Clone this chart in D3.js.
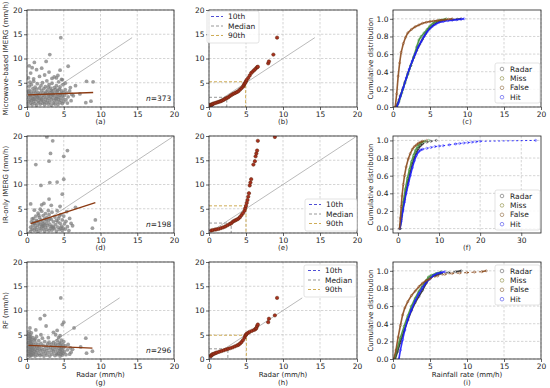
<!DOCTYPE html>
<html>
<head>
<meta charset="utf-8">
<script src="https://cdn.jsdelivr.net/npm/d3@7"></script>
<style>
  body { margin: 0; background: #fff; }
  svg { display: block; font-family: "DejaVu Sans", sans-serif; }
</style>
</head>
<body>
<svg id="chart" width="550" height="388"></svg>
<script>
// scatter: radar vs product (x = radar, y = product)
const scatterMW = [
  [4.6,14.3],[3.1,10.8],[2.6,9.4],[1.0,9.2],[0.3,8.5],[5.6,8.4],[2.0,8.0],[0.7,8.1],[4.5,7.6],[3.0,7.2],
  [1.3,7.7],[4.2,6.5],[0.5,7.0],[4.0,6.0],[8.1,5.3],[9.0,5.2],[8.0,0.9],[8.7,1.2],[6.3,2.3],[7.2,2.7],
  [6.6,4.4],[5.2,4.9],[3.7,6.2],[2.4,6.6],[1.7,6.3],[0.2,6.0],[0.9,5.8],[4.8,5.6],[3.4,5.9],
  [0.1,0.6],[0.2,1.2],[0.2,2.0],[0.3,2.8],[0.3,3.5],[0.3,4.3],[0.4,5.1],[0.4,1.5],[0.5,0.8],[0.5,2.4],
  [0.6,3.1],[0.6,4.6],[0.7,1.9],[0.7,0.5],[0.8,2.7],[0.8,3.8],[0.9,1.1],[0.9,5.3],[1.0,2.2],[1.0,3.3],
  [1.1,0.7],[1.1,4.1],[1.2,1.6],[1.2,2.9],[1.3,0.4],[1.3,3.7],[1.4,2.1],[1.4,4.8],[1.5,1.2],[1.5,3.0],
  [1.6,0.9],[1.6,2.5],[1.7,3.9],[1.7,1.8],[1.8,0.6],[1.8,2.8],[1.9,4.4],[1.9,1.4],[2.0,2.3],[2.0,3.4],
  [2.1,0.8],[2.1,5.0],[2.2,1.9],[2.2,2.9],[2.3,1.1],[2.3,3.8],[2.4,0.5],[2.4,2.4],[2.5,1.6],[2.5,4.2],
  [2.6,3.1],[2.6,0.9],[2.7,2.0],[2.7,5.4],[2.8,1.3],[2.8,3.5],[2.9,2.6],[2.9,0.6],[3.0,1.8],[3.0,4.6],
  [3.1,3.0],[3.1,1.0],[3.2,2.2],[3.2,3.9],[3.3,1.5],[3.3,0.4],[3.4,2.7],[3.4,4.9],[3.5,1.9],[3.5,3.3],
  [3.6,0.8],[3.6,2.4],[3.7,4.0],[3.7,1.3],[3.8,2.9],[3.8,0.6],[3.9,1.7],[3.9,3.6],[4.0,2.2],[4.0,4.4],
  [4.1,1.1],[4.1,3.1],[4.2,0.5],[4.2,2.6],[4.3,1.6],[4.3,5.2],[4.4,3.7],[4.4,2.0],[4.5,0.9],[4.5,4.1],
  [4.6,2.8],[4.6,1.4],[4.7,3.3],[4.7,5.7],[4.8,2.3],[4.8,0.7],[4.9,4.6],[4.9,1.8],[5.0,3.0],[5.0,1.1],
  [5.1,2.4],[5.2,3.6],[5.3,1.5],[5.4,2.9],[5.5,0.8],[5.6,2.1],[5.8,3.3],[6.0,1.3],[6.1,2.6],[5.9,4.0],
  [0.2,3.1],[0.4,2.3],[0.6,1.3],[1.0,1.6],[1.5,2.0],[2.0,1.5],[2.5,2.8],[3.0,2.5],[3.5,2.6],[4.0,1.8],
  [4.5,2.4],[1.2,2.4],[0.8,1.7],[3.3,3.4],[2.9,4.1],[4.2,3.4]
]
const scatterIR = [
  [2.7,19.8],[3.5,19.0],[3.2,16.4],[3.0,14.8],[1.2,14.1],[5.5,17.0],[5.0,15.8],[5.0,11.1],[3.1,10.4],[1.9,9.8],
  [4.1,10.5],[4.8,8.0],[3.0,7.0],[0.5,6.0],[2.3,6.1],[3.3,5.7],[4.5,5.5],[9.3,2.7],[8.9,1.0],[6.6,5.3],
  [5.7,0.5],[2.0,5.8],[1.0,4.7],[6.0,2.0],
  [0.5,0.4],[0.5,1.2],[0.6,2.3],[0.7,0.8],[0.8,1.6],[0.9,3.0],[1.0,0.5],[1.0,2.0],[1.1,1.1],[1.2,3.5],
  [1.3,0.7],[1.3,2.6],[1.4,1.5],[1.5,4.1],[1.5,0.3],[1.6,2.1],[1.7,1.0],[1.7,3.2],[1.8,1.8],[1.9,0.6],
  [1.9,2.7],[2.0,1.3],[2.0,4.5],[2.1,2.3],[2.2,0.9],[2.2,3.6],[2.3,1.6],[2.4,0.4],[2.4,2.9],[2.5,1.2],
  [2.5,4.0],[2.6,2.0],[2.7,0.7],[2.7,3.2],[2.8,1.5],[2.9,2.5],[3.0,0.5],[3.0,3.8],[3.1,1.8],[3.2,1.0],
  [3.3,2.8],[3.4,0.6],[3.4,4.3],[3.5,1.4],[3.6,2.3],[3.7,0.9],[3.8,3.3],[3.9,1.7],[4.0,0.4],[4.0,2.6],
  [4.1,4.6],[4.2,1.2],[4.3,3.0],[4.4,0.7],[4.5,2.0],[4.6,3.8],[4.7,1.4],[4.8,0.5],[4.8,2.7],[4.9,1.0],
  [5.0,3.5],[5.1,1.9],[5.2,0.8],[5.3,2.4],[5.5,1.3],[5.8,3.0],[6.2,1.5],[0.7,2.9],[1.1,1.9],[1.6,3.7],
  [2.1,1.5],[2.6,2.7],[3.1,3.0],[3.6,1.1],[4.2,2.3],[4.6,1.0],[1.4,2.4],[2.3,1.9],[3.3,1.3],[4.4,3.5],
  [2.9,4.6],[1.8,4.9],[0.9,2.2],[5.4,4.4]
]
const scatterRF = [
  [4.6,12.6],[2.4,9.0],[1.8,8.3],[5.0,7.6],[4.8,7.1],[6.4,6.4],[2.6,6.8],[8.0,4.3],[8.9,1.6],[8.1,1.2],
  [4.1,5.9],[0.4,6.4],[3.6,5.5],[1.2,6.0],[6.2,2.0],[7.3,2.5],[5.8,1.0],
  [0.2,0.8],[0.2,1.6],[0.2,2.5],[0.2,3.4],[0.2,4.3],[0.2,5.2],[0.3,1.1],[0.3,2.0],[0.3,2.9],[0.3,3.8],
  [0.3,4.7],[0.3,5.7],[0.4,0.6],[0.4,1.5],[0.4,2.4],[0.4,3.3],[0.4,4.2],[0.4,5.0],[0.5,1.0],[0.5,1.9],
  [0.5,2.8],[0.5,3.7],[0.5,4.6],[0.6,0.7],[0.6,1.4],[0.6,2.3],[0.6,3.1],[0.6,4.0],[0.6,5.4],[0.7,1.8],
  [0.7,2.7],[0.7,3.5],[0.8,1.2],[0.8,2.1],[0.8,4.4],[0.9,0.9],[0.9,3.0],[1.0,1.6],[1.0,2.5],[1.0,3.9],
  [1.1,0.6],[1.1,2.0],[1.2,1.3],[1.2,3.3],[1.3,2.6],[1.3,4.6],[1.4,0.8],[1.4,1.8],[1.5,3.0],[1.5,2.2],
  [1.6,1.1],[1.6,3.8],[1.7,2.5],[1.8,0.7],[1.8,1.7],[1.9,3.2],[2.0,2.1],[2.0,1.0],[2.1,4.3],[2.2,1.5],
  [2.2,2.8],[2.3,0.6],[2.4,2.0],[2.4,3.6],[2.5,1.2],[2.6,2.6],[2.7,1.7],[2.7,0.8],[2.8,3.1],[2.9,2.2],
  [3.0,1.3],[3.0,3.5],[3.1,0.6],[3.2,2.5],[3.3,1.8],[3.3,3.0],[3.4,1.0],[3.5,2.2],[3.6,3.4],[3.6,1.5],
  [3.7,2.7],[3.8,0.7],[3.8,1.9],[3.9,3.1],[4.0,1.2],[4.0,2.4],[4.1,3.8],[4.1,0.9],[4.2,1.7],[4.2,2.9],
  [4.3,4.4],[4.3,1.1],[4.4,2.2],[4.4,3.4],[4.5,0.6],[4.5,1.6],[4.5,2.7],[4.5,4.8],[4.6,1.0],[4.6,2.0],
  [4.6,3.2],[4.7,1.4],[4.7,2.5],[4.7,3.9],[4.8,0.8],[4.8,1.9],[4.9,2.9],[4.9,1.2],[5.0,2.3],[5.0,3.6],
  [5.1,1.5],[5.2,2.7],[5.3,0.9],[5.5,1.9],[5.6,3.0],[5.9,2.3],[6.0,1.4],[1.9,5.0],[1.1,4.1],[2.9,4.4],
  [3.9,5.0]
]
const sampleSizes = [373, 198, 296]
const fitSlope = [0.055, 0.49, -0.066]
const fitIntercept = [2.5, 1.7, 2.82]

// quantile-quantile (sorted radar, sorted product)
const qqMW = [
  [0.1,0.3],[0.2,0.4],[0.3,0.5],[0.4,0.5],[0.5,0.6],[0.6,0.7],[0.8,0.8],[1.0,0.9],[1.2,1.0],[1.4,1.1],
  [1.6,1.2],[1.8,1.35],[2.0,1.5],[2.2,1.7],[2.4,1.85],[2.6,2.0],[2.8,2.25],[3.0,2.45],[3.2,2.65],[3.4,2.8],
  [3.6,2.95],[3.8,3.1],[4.0,3.3],[4.2,3.6],[4.4,3.9],[4.6,4.2],[4.7,4.5],[4.8,4.8],[4.9,5.0],[5.0,5.3],
  [5.1,5.6],[5.3,6.0],[5.5,6.5],[5.7,7.0],[5.9,7.3],[6.1,7.6],[6.3,7.9],[6.5,8.2],[6.6,8.3],[8.0,9.0],
  [8.1,9.4],[8.7,10.8],[9.2,14.3]
]
const qqIR = [
  [0.3,0.5],[0.5,0.6],[0.8,0.7],[1.0,0.75],[1.3,0.85],[1.6,1.0],[1.9,1.15],[2.2,1.35],[2.5,1.6],[2.8,1.85],
  [3.0,2.0],[3.2,2.3],[3.4,2.5],[3.6,2.65],[3.8,2.8],[4.0,3.0],[4.2,3.3],[4.4,3.7],[4.6,4.1],[4.8,4.6],
  [4.9,5.1],[5.0,5.6],[5.1,6.2],[5.2,6.8],[5.3,7.5],[5.4,8.2],[5.5,9.8],[5.6,10.4],[5.7,11.1],[6.0,14.1],
  [6.2,14.8],[6.3,15.8],[6.4,16.4],[6.5,17.0],[6.6,19.0],[8.9,19.8]
]
const qqRF = [
  [0.2,0.6],[0.3,0.7],[0.4,0.9],[0.5,1.0],[0.7,1.1],[0.9,1.25],[1.1,1.35],[1.4,1.5],[1.7,1.65],[2.0,1.8],
  [2.3,1.95],[2.6,2.1],[2.9,2.25],[3.2,2.4],[3.5,2.6],[3.8,2.8],[4.0,2.95],[4.2,3.2],[4.4,3.5],[4.6,3.9],
  [4.8,4.4],[4.9,4.8],[5.0,5.0],[5.1,5.2],[5.3,5.4],[5.5,5.6],[5.8,5.8],[6.1,6.0],[6.3,6.2],[6.4,6.4],
  [6.5,6.8],[6.6,7.1],[8.0,7.6],[8.1,8.3],[8.9,9.0],[9.2,12.6]
]
// percentiles [radar, product]: 10th, median, 90th
const pctMW = [[0.45,0.55],[2.4,2.0],[4.95,5.2]]
const pctIR = [[1.0,0.55],[3.0,2.05],[5.0,5.6]]
const pctRF = [[0.3,0.7],[2.55,2.1],[5.05,4.9]]
const pctNames = ['10th', 'Median', '90th']

// cumulative distributions [value, probability]
const cdfMW = {
  Radar: [[0.4,0],[0.6,0.03],[0.8,0.08],[1.0,0.13],[1.3,0.2],[1.6,0.28],[2.0,0.38],[2.4,0.47],[2.8,0.56],[3.2,0.64],[3.6,0.71],[4.0,0.77],[4.4,0.83],[4.8,0.88],[5.2,0.91],[5.6,0.94],[6.0,0.96],[6.5,0.975],[7.0,0.985],[8.0,0.99],[8.7,0.995],[9.2,1.0]],
  Miss: [[0.5,0],[0.8,0.06],[1.2,0.16],[1.6,0.27],[2.0,0.37],[2.4,0.47],[2.8,0.57],[3.2,0.68],[3.5,0.76],[3.8,0.8],[4.2,0.84],[4.6,0.88],[5.0,0.92],[5.4,0.95],[5.8,0.97],[6.3,0.985],[6.8,0.99],[7.2,1.0]],
  False: [[0.3,0],[0.5,0.15],[0.7,0.35],[0.9,0.5],[1.1,0.62],[1.4,0.72],[1.7,0.79],[2.0,0.84],[2.5,0.88],[3.0,0.91],[3.5,0.93],[4.0,0.95],[4.5,0.96],[5.0,0.97],[5.5,0.975],[6.0,0.98],[6.5,0.985],[7.0,0.99],[7.5,0.995],[8.0,1.0]],
  Hit: [[0.5,0],[0.7,0.04],[1.0,0.12],[1.4,0.22],[1.8,0.33],[2.2,0.43],[2.6,0.52],[3.0,0.6],[3.4,0.68],[3.8,0.74],[4.2,0.8],[4.6,0.85],[5.0,0.89],[5.4,0.92],[5.8,0.94],[6.2,0.96],[6.8,0.97],[7.4,0.98],[8.0,0.985],[8.6,0.99],[9.2,0.995],[9.6,1.0]]
}
const cdfIR = {
  Radar: [[0.5,0],[0.8,0.1],[1.2,0.22],[1.6,0.33],[2.0,0.43],[2.5,0.54],[3.0,0.64],[3.5,0.73],[4.0,0.8],[4.5,0.86],[5.0,0.91],[5.5,0.94],[6.0,0.96],[7.0,0.98],[8.0,0.99],[9.3,1.0]],
  Miss: [[0.5,0],[0.9,0.15],[1.3,0.3],[1.8,0.45],[2.3,0.57],[2.8,0.67],[3.3,0.76],[3.8,0.83],[4.3,0.89],[4.8,0.93],[5.3,0.96],[5.8,0.98],[6.5,0.99],[7.5,1.0]],
  False: [[0.4,0],[0.6,0.12],[0.8,0.25],[1.0,0.37],[1.3,0.5],[1.6,0.6],[2.0,0.7],[2.5,0.79],[3.0,0.85],[3.5,0.9],[4.0,0.93],[4.5,0.95],[5.0,0.97],[5.5,0.98],[6.0,0.99],[7.0,1.0]],
  Hit: [[0.5,0],[0.8,0.08],[1.2,0.2],[1.6,0.3],[2.0,0.4],[2.5,0.5],[3.0,0.6],[3.5,0.69],[4.0,0.77],[4.5,0.83],[5.0,0.87],[5.5,0.89],[6.0,0.9],[7.0,0.91],[8.0,0.92],[9.0,0.93],[10.0,0.935],[11.0,0.94],[12.5,0.95],[14.0,0.96],[15.0,0.965],[16.0,0.97],[17.0,0.975],[18.0,0.98],[19.0,0.985],[20.0,0.99],[33.5,1.0]]
}
const cdfRF = {
  Radar: [[0.3,0],[0.6,0.08],[1.0,0.19],[1.5,0.32],[2.0,0.44],[2.5,0.55],[3.0,0.64],[3.5,0.71],[4.0,0.78],[4.5,0.86],[4.8,0.9],[5.2,0.93],[5.8,0.95],[6.5,0.97],[7.5,0.98],[8.5,0.99],[9.2,1.0]],
  Miss: [[0.2,0],[0.5,0.1],[1.0,0.24],[1.5,0.37],[2.0,0.49],[2.5,0.6],[3.0,0.69],[3.5,0.77],[4.0,0.83],[4.5,0.89],[4.8,0.93],[5.2,0.95],[5.8,0.97],[6.5,0.99]],
  False: [[0.1,0],[0.4,0.1],[0.7,0.25],[1.0,0.38],[1.3,0.5],[1.6,0.58],[2.0,0.65],[2.5,0.72],[3.0,0.77],[3.5,0.82],[4.0,0.86],[4.5,0.89],[5.0,0.91],[6.0,0.94],[7.0,0.96],[8.0,0.97],[9.0,0.975],[10.0,0.98],[11.0,0.985],[12.0,0.99],[12.6,1.0]],
  Hit: [[0.8,0],[1.0,0.1],[1.3,0.22],[1.6,0.33],[2.0,0.45],[2.5,0.56],[3.0,0.66],[3.5,0.74],[4.0,0.81],[4.5,0.87],[5.0,0.91],[5.5,0.95],[6.0,0.97],[6.5,0.98],[7.0,0.99]]
}
const cdfNames = ['Radar', 'Miss', 'False', 'Hit']

const rateTicks = [0, 5, 10, 15, 20]
const wideTicks = [0, 10, 20, 30]
const probTicks = [0, 0.2, 0.4, 0.6, 0.8, 1.0]
const rowLabels = ['Microwave-based IMERG (mm/h)', 'IR-only IMERG (mm/h)', 'RF (mm/h)']
const panelLetters = [['(a)', '(b)', '(c)'], ['(d)', '(e)', '(f)'], ['(g)', '(h)', '(i)']]

// layout
const colsX = [[27, 174], [209, 357], [393, 541]]
const rowsY = [[10, 107], [136, 233], [262, 359]]
const pctColors = ['#3b3bd0', '#8c8c8c', '#c9a444']
const cdfColors = { Radar: '#2a2a2a', Miss: '#3f8f3a', False: '#8b4a1c', Hit: '#1c1cff' }
const cdfLegendColors = { Radar: '#8a8a8a', Miss: '#a6a66a', False: '#a88a6a', Hit: '#7070f0' }

const svg = d3.select('#chart')
let clipId = 0

const frame = (col, row, xDomain, yDomain, xTicks, yTicks, yFmt) => {
  const [x0, x1] = colsX[col]
  const [y0, y1] = rowsY[row]
  const x = d3.scaleLinear().domain(xDomain).range([x0, x1])
  const y = d3.scaleLinear().domain(yDomain).range([y1, y0])
  const g = svg.append('g')

  const grid = g.append('g')
    .attr('stroke', '#b8b8b8').attr('stroke-width', 0.6).attr('stroke-dasharray', '2.4,1.6')
  grid.selectAll('.gx').data(xTicks).enter().append('line')
    .attr('x1', d => x(d)).attr('x2', d => x(d)).attr('y1', y0).attr('y2', y1)
  grid.selectAll('.gy').data(yTicks).enter().append('line')
    .attr('y1', d => y(d)).attr('y2', d => y(d)).attr('x1', x0).attr('x2', x1)

  const ax = g.append('g').attr('transform', `translate(0,${y1})`)
    .call(d3.axisBottom(x).tickValues(xTicks).tickSize(3).tickPadding(1.5).tickFormat(d3.format('d')))
  const ay = g.append('g').attr('transform', `translate(${x0},0)`)
    .call(d3.axisLeft(y).tickValues(yTicks).tickSize(3).tickPadding(1.5).tickFormat(yFmt))
  ;[ax, ay].forEach(a => {
    a.select('.domain').remove()
    a.selectAll('line').attr('stroke', '#222').attr('stroke-width', 0.7)
    a.selectAll('text').attr('font-size', 7.5).attr('fill', '#222').attr('font-family', '"DejaVu Sans", sans-serif')
  })

  const id = 'clip' + (clipId++)
  svg.append('clipPath').attr('id', id).append('rect')
    .attr('x', x0).attr('y', y0).attr('width', x1 - x0).attr('height', y1 - y0)
  const plot = g.append('g').attr('clip-path', `url(#${id})`)

  g.append('rect').attr('x', x0).attr('y', y0).attr('width', x1 - x0).attr('height', y1 - y0)
    .attr('fill', 'none').attr('stroke', '#222').attr('stroke-width', 0.8)

  return { x, y, g, plot, x0, x1, y0, y1 }
}

const label = (txt, x, y, size, anchor) =>
  svg.append('text').attr('x', x).attr('y', y).attr('font-size', size)
    .attr('text-anchor', anchor || 'middle').attr('fill', '#222').text(txt)

const yLabel = (txt, x, yc) =>
  svg.append('text').attr('transform', `translate(${x},${yc}) rotate(-90)`)
    .attr('font-size', 7).attr('text-anchor', 'middle').attr('fill', '#222').text(txt)

const oneToOne = (p, hi) => {
  p.plot.append('line')
    .attr('x1', p.x(0)).attr('y1', p.y(0)).attr('x2', p.x(hi)).attr('y2', p.y(hi))
    .attr('stroke', '#a8a8a8').attr('stroke-width', 0.8)
}

// column 1: scatter plots
const drawScatter = (row, pts) => {
  const p = frame(0, row, [0, 20], [0, 20], rateTicks, rateTicks, d3.format('d'))
  const hi = d3.max(pts, d => Math.max(d[0], d[1]))
  oneToOne(p, hi)
  p.plot.selectAll('circle').data(pts).enter().append('circle')
    .attr('cx', d => p.x(d[0])).attr('cy', d => p.y(d[1])).attr('r', 1.9)
    .attr('fill', '#7a7a7a').attr('fill-opacity', 0.72)
  const [lo, top] = d3.extent(pts, d => d[0])
  const f = v => fitIntercept[row] + fitSlope[row] * v
  p.plot.append('line')
    .attr('x1', p.x(lo)).attr('y1', p.y(f(lo))).attr('x2', p.x(top)).attr('y2', p.y(f(top)))
    .attr('stroke', '#8b3a12').attr('stroke-width', 1.4)
  const n = svg.append('text').attr('x', p.x1 - 28).attr('y', p.y1 - 6)
    .attr('font-size', 7.5).attr('fill', '#222')
  n.append('tspan').attr('font-style', 'italic').text('n')
  n.append('tspan').text('=' + sampleSizes[row])
  yLabel(rowLabels[row], 8, (p.y0 + p.y1) / 2)
  return p
}

// column 2: quantile-quantile plots
const drawQQ = (row, pts, pct, legendPos) => {
  const p = frame(1, row, [0, 20], [0, 20], rateTicks, rateTicks, d3.format('d'))
  oneToOne(p, d3.max(pts, d => Math.max(d[0], d[1])))
  pct.forEach((q, i) => {
    p.plot.append('path')
      .attr('d', `M${p.x(0)},${p.y(q[1])}H${p.x(q[0])}V${p.y(0)}`)
      .attr('fill', 'none').attr('stroke', pctColors[i]).attr('stroke-width', 0.9)
      .attr('stroke-dasharray', '3,2')
  })
  p.plot.selectAll('circle').data(pts).enter().append('circle')
    .attr('cx', d => p.x(d[0])).attr('cy', d => p.y(d[1])).attr('r', 1.7)
    .attr('fill', '#a8301e').attr('stroke', '#5a2208').attr('stroke-width', 0.5)
  const [lx, ly] = legendPos
  const lg = svg.append('g').attr('transform', `translate(${lx},${ly})`)
  lg.append('rect').attr('width', 52).attr('height', 32).attr('rx', 2)
    .attr('fill', '#fff').attr('fill-opacity', 0.85).attr('stroke', '#d0d0d0').attr('stroke-width', 0.6)
  pctNames.forEach((nm, i) => {
    const yy = 5.5 + i * 9.5
    lg.append('line').attr('x1', 4).attr('x2', 16).attr('y1', yy).attr('y2', yy)
      .attr('stroke', pctColors[i]).attr('stroke-width', 0.9).attr('stroke-dasharray', '3,2')
    lg.append('text').attr('x', 21).attr('y', yy + 2.6).attr('font-size', 7.5).attr('fill', '#222').text(nm)
  })
  return p
}

// column 3: cumulative distributions
const drawCDF = (row, cdf, xDomain, xTicks, yDomain, legendPos) => {
  const p = frame(2, row, xDomain, yDomain, xTicks, probTicks, d3.format('.1f'))
  const order = ['Radar', 'Miss', 'Hit', 'False']
  order.forEach(nm => {
    const pts = cdf[nm]
    const segs = d3.pairs(pts)
    p.plot.selectAll(null).data(segs).enter().append('line')
      .attr('x1', d => p.x(d[0][0])).attr('y1', d => p.y(d[0][1]))
      .attr('x2', d => p.x(d[1][0])).attr('y2', d => p.y(d[1][1]))
      .attr('stroke', cdfColors[nm])
      .attr('stroke-width', d => (d[1][0] - d[0][0]) > 0.8 ? 1.0 : 1.6)
      .attr('stroke-dasharray', d => (d[1][0] - d[0][0]) > 0.8 ? '2,2.5' : null)
      .attr('stroke-opacity', 0.9)
    p.plot.selectAll(null).data(pts).enter().append('circle')
      .attr('cx', d => p.x(d[0])).attr('cy', d => p.y(d[1])).attr('r', 1.1)
      .attr('fill', 'none').attr('stroke', cdfColors[nm]).attr('stroke-width', 0.6).attr('stroke-opacity', 0.7)
  })
  const [lx, ly] = legendPos
  const lg = svg.append('g').attr('transform', `translate(${lx},${ly})`)
  lg.append('rect').attr('width', 45).attr('height', 40).attr('rx', 2)
    .attr('fill', '#fff').attr('fill-opacity', 0.85).attr('stroke', '#d0d0d0').attr('stroke-width', 0.6)
  cdfNames.forEach((nm, i) => {
    const yy = 6 + i * 9.4
    lg.append('circle').attr('cx', 7).attr('cy', yy).attr('r', 1.8)
      .attr('fill', 'none').attr('stroke', cdfLegendColors[nm]).attr('stroke-width', 0.8)
    lg.append('text').attr('x', 15).attr('y', yy + 2.6).attr('font-size', 7.5).attr('fill', '#222').text(nm)
  })
  yLabel('Cumulative distribution', 373, (p.y0 + p.y1) / 2)
  return p
}

drawScatter(0, scatterMW)
drawScatter(1, scatterIR)
drawScatter(2, scatterRF)
drawQQ(0, qqMW, pctMW, [207, 11])
drawQQ(1, qqIR, pctIR, [305, 199])
drawQQ(2, qqRF, pctRF, [304, 265])
drawCDF(0, cdfMW, [0, 20], rateTicks, [0, 1.1], [495, 63])
drawCDF(1, cdfIR, [-1.2, 34.8], wideTicks, [-0.05, 1.05], [495, 190])
drawCDF(2, cdfRF, [0, 20], rateTicks, [0, 1.1], [495, 265])

// panel letters and axis titles
;[0, 1].forEach(r => {
  [0, 1, 2].forEach(cIdx => {
    label(panelLetters[r][cIdx], (colsX[cIdx][0] + colsX[cIdx][1]) / 2, rowsY[r][1] + 17, 7, 'middle')
  })
})
;['Radar (mm/h)', 'Radar (mm/h)', 'Rainfall rate (mm/h)'].forEach((t, cIdx) => {
  const cx = (colsX[cIdx][0] + colsX[cIdx][1]) / 2
  label(t, cx, rowsY[2][1] + 18, 7, 'middle')
  label(panelLetters[2][cIdx], cx, rowsY[2][1] + 26, 7, 'middle')
})
</script>
</body>
</html>
